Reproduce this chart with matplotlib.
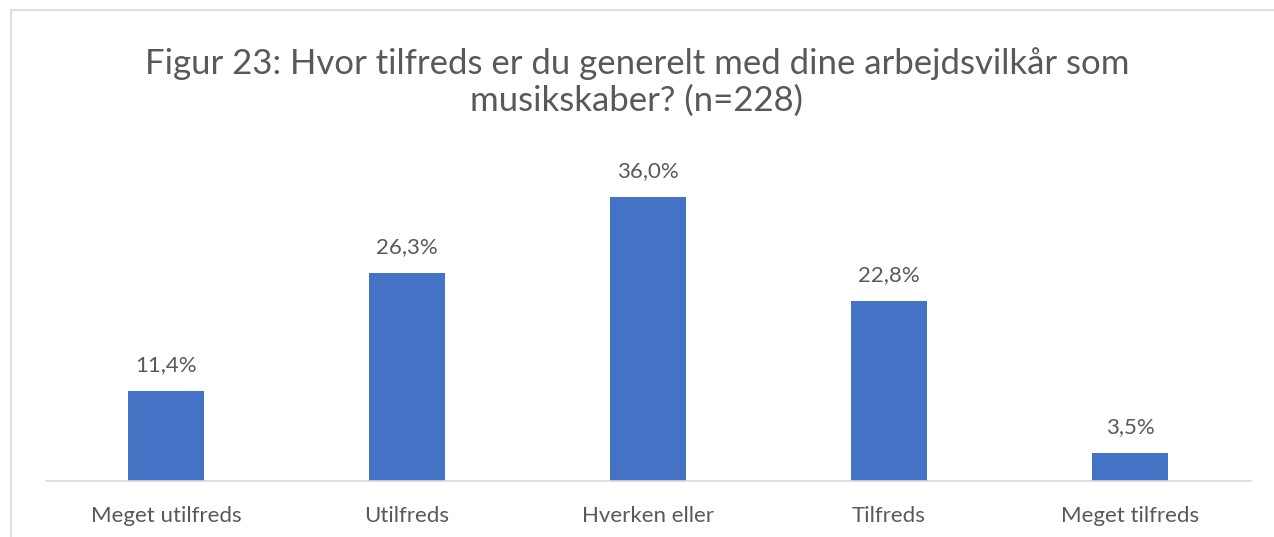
import matplotlib.pyplot as plt
from matplotlib.patches import Rectangle

plt.rcParams['font.family'] = ['Lato', 'DejaVu Sans']

categories = ['Meget utilfreds', 'Utilfreds', 'Hverken eller', 'Tilfreds', 'Meget tilfreds']
values = [11.4, 26.3, 36.0, 22.8, 3.5]
title = 'Figur 23: Hvor tilfreds er du generelt med dine arbejdsvilkår som\nmusikskaber? (n=228)'

text_color = '#595959'
bar_color = '#4472C4'

fig = plt.figure(figsize=(12.74, 5.37), dpi=100)
# chart area border (Excel style)
fig.patches.append(Rectangle((11 / 1274, -0.1), 1.2, 1 - 10 / 537 + 0.1,
                             transform=fig.transFigure, fill=False,
                             edgecolor='#D9D9D9', linewidth=1.2))

ax = fig.add_axes([45.5 / 1274, 56 / 537, 1205 / 1274, 316 / 537])
x = range(len(categories))
ax.bar(x, values, width=0.315, color=bar_color)
for xi, v in zip(x, values):
    ax.text(xi, v + 2.0, f'{v:.1f}%'.replace('.', ','), ha='center', va='bottom',
            fontsize=16, color=text_color)

ax.set_xlim(-0.5, len(categories) - 0.5)
ax.set_ylim(0, 40)
ax.set_xticks(list(x))
ax.set_xticklabels(categories, fontsize=16, color=text_color)
ax.tick_params(axis='x', length=0, pad=18)
ax.set_yticks([])
for side in ['top', 'left', 'right']:
    ax.spines[side].set_visible(False)
ax.spines['bottom'].set_color('#D9D9D9')
ax.spines['bottom'].set_linewidth(1.2)

fig.text(0.5, 1 - 82 / 537, title, ha='center', va='center', fontsize=25,
         color=text_color, linespacing=1.18)

fig.savefig('out.png', dpi=100)
